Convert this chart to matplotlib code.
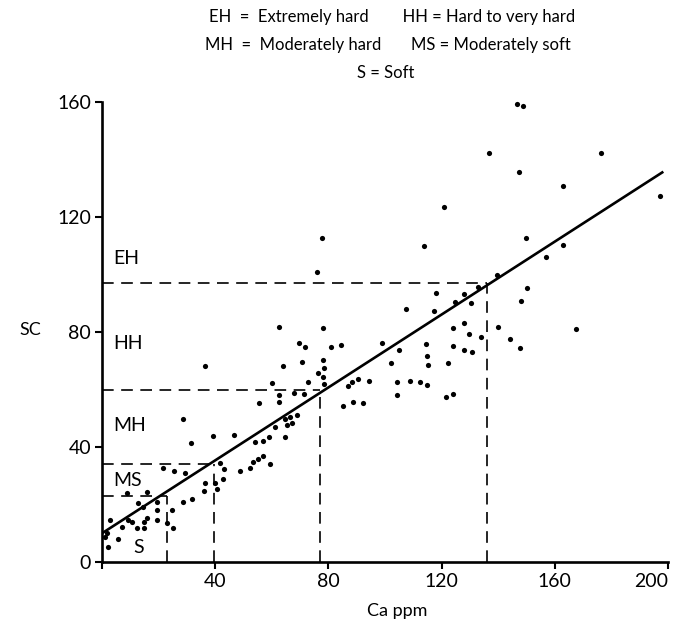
import matplotlib
matplotlib.use("Agg")
import matplotlib.pyplot as plt
import numpy as np

plt.rcParams['font.family'] = ['Lato', 'DejaVu Sans']

# ---- data ----
ca_ppm = [1.1, 1.8, 2.1, 2.8, 5.7, 7.1, 9.2, 10.6, 12.4, 14.8, 14.8, 15.9, 19.4, 23.0, 25.1,
          19.4, 24.7, 12.7, 14.5, 19.4, 8.8, 15.9, 28.6, 31.8, 21.6, 25.4, 29.3, 36.0, 36.4, 39.9,
          40.6, 41.7, 43.1, 42.8, 48.8, 52.3, 53.4, 55.1, 56.9, 59.4, 31.4, 28.6, 39.2, 46.6, 54.1,
          56.9, 59.0, 64.7, 61.1, 65.4, 67.1, 64.7, 66.4, 68.9, 55.5, 62.5, 62.5, 67.8, 71.4, 60.1,
          72.8, 78.4, 78.1, 76.3, 78.4, 78.1, 70.7, 64.0, 36.4, 62.5, 78.1, 69.6, 71.7, 80.9, 84.5,
          77.7, 76.0, 86.9, 88.3, 90.5, 94.3, 85.2, 88.7, 92.2, 98.9, 104.9, 102.1, 107.4, 104.2,
          108.8, 112.4, 114.8, 104.2, 114.5, 114.8, 115.2, 122.3, 124.0, 127.9, 130.7, 121.6, 124.0,
          124.0, 127.9, 129.7, 133.9, 139.9, 144.2, 147.7, 117.3, 118.0, 127.9, 124.7, 130.4, 132.9,
          139.6, 150.2, 148.1, 156.9, 113.8, 149.8, 162.9, 120.8, 147.3, 162.9, 136.7, 176.3, 146.6,
          148.8, 197.2, 167.5]
sc = [8.7, 10.1, 5.2, 14.6, 8.0, 12.2, 14.6, 13.9, 11.8, 11.8, 13.9, 15.3, 14.6, 13.6, 11.8,
      18.1, 18.1, 20.5, 19.1, 20.9, 24.0, 24.3, 20.9, 21.9, 32.7, 31.7, 31.0, 24.7, 27.5, 27.5,
      25.4, 34.4, 32.3, 28.9, 31.7, 32.7, 34.8, 35.8, 36.9, 34.1, 41.4, 49.7, 43.8, 44.2, 41.7,
      42.1, 43.5, 43.5, 47.0, 47.7, 48.3, 49.7, 50.4, 51.1, 55.3, 55.7, 58.1, 58.8, 58.4, 62.3,
      62.6, 61.9, 64.3, 65.7, 67.5, 70.3, 69.6, 68.2, 68.2, 81.7, 81.4, 76.2, 74.8, 74.8, 75.5,
      112.7, 100.9, 61.2, 62.6, 63.7, 63.0, 54.3, 55.7, 55.3, 76.2, 73.7, 69.2, 88.0, 62.6,
      63.0, 62.6, 61.6, 58.1, 75.8, 71.7, 68.5, 69.2, 75.1, 73.7, 73.0, 57.4, 58.4,
      81.4, 83.1, 79.3, 78.3, 81.7, 77.6, 74.4, 87.3, 93.6, 93.2, 90.4, 90.1, 95.7,
      99.8, 95.3, 90.8, 106.1, 109.9, 112.7, 110.3, 123.5, 135.7, 130.8, 142.3, 142.3, 159.3,
      158.6, 127.3, 81.0]

# regression line SC = a + b * Ca
reg_intercept = 10.0
reg_slope = 0.634
reg_x_range = [0, 198]

# hardness class boundaries (Ca ppm, SC)
bound_ca = [23, 39.5, 77, 136]
bound_sc = [23, 34, 60, 97]

class_labels = ['S', 'MS', 'MH', 'HH', 'EH']
class_label_x = [11, 4, 4, 4, 4]
class_label_y = [5, 28.5, 47.5, 76, 105.5]

x_ticks = [0, 40, 80, 120, 160, 200]
x_ticklabels = ['', '40', '80', '120', '160', '200']
y_ticks = [0, 40, 80, 120, 160]
y_ticklabels = ['0', '40', '80', '120', '160']

legend_lines = ["EH  =  Extremely hard        HH = Hard to very hard",
                "MH  =  Moderately hard       MS = Moderately soft",
                "S = Soft"]

# ---- figure ----
fig = plt.figure(figsize=(6.76, 6.24), dpi=100)
ax = fig.add_axes([0.151, 0.0994, 0.837, 0.737])

ax.scatter(ca_ppm, sc, s=14, color='black', zorder=3, clip_on=False, linewidths=0)

rx = np.array(reg_x_range)
ax.plot(rx, reg_intercept + reg_slope * rx, color='black', lw=1.9, zorder=4)

for bx, by in zip(bound_ca, bound_sc):
    ax.plot([0, bx], [by, by], color='black', lw=1.2, ls=(0, (7, 4.5)), zorder=2)
    ax.plot([bx, bx], [0, by], color='black', lw=1.2, ls=(0, (7, 4.5)), zorder=2)

for lab, lx, ly in zip(class_labels, class_label_x, class_label_y):
    ax.text(lx, ly, lab, fontsize=14, ha='left', va='center')

ax.set_xlim(0, 200)
ax.set_ylim(0, 160)
ax.spines['top'].set_visible(False)
ax.spines['right'].set_visible(False)
ax.spines['left'].set_linewidth(1.9)
ax.spines['bottom'].set_linewidth(1.9)
ax.set_xticks(x_ticks)
ax.set_xticklabels(x_ticklabels)
ax.set_yticks(y_ticks)
ax.set_yticklabels(y_ticklabels)
ax.tick_params(direction='out', length=5, width=1.5, labelsize=14, pad=3)
ax.get_xticklabels()[-1].set_horizontalalignment('right')

ax.set_xlabel('Ca ppm', fontsize=13, va='center')
ax.xaxis.set_label_coords(0.521, -0.107)
ax.set_ylabel('SC', fontsize=13, rotation=0, ha='center', va='center')
ax.yaxis.set_label_coords(-0.127, 0.504)

fig.text(0.58, 1 - 17 / 624, legend_lines[0], fontsize=12, ha='center', va='center')
fig.text(0.574, 1 - 45 / 624, legend_lines[1], fontsize=12, ha='center', va='center')
fig.text(0.57, 1 - 73 / 624, legend_lines[2], fontsize=12, ha='center', va='center')

fig.savefig('out.png', dpi=100)
